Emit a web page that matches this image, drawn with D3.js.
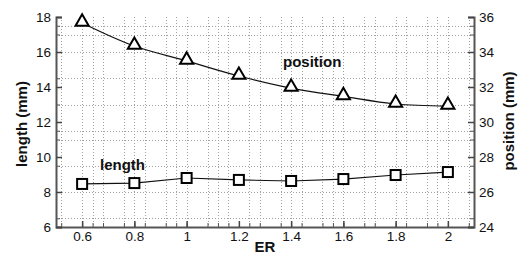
<!DOCTYPE html>
<html>
<head>
<meta charset="utf-8">
<script src="https://cdn.jsdelivr.net/npm/d3@7"></script>
<style>
  body { margin: 0; background: #fff; }
  text { font-family: "Liberation Sans", Arial, sans-serif; fill: #111; }
</style>
</head>
<body>
<svg width="519" height="255"></svg>
<script>
// values
var er = [0.6, 0.8, 1.0, 1.2, 1.4, 1.6, 1.8, 2.0];
var lengthMM = [8.46, 8.51, 8.8, 8.69, 8.63, 8.74, 8.97, 9.14];
var positionMM = [35.66, 34.34, 33.49, 32.63, 31.94, 31.46, 31.03, 30.91];

var xTicks = [0.6, 0.8, 1, 1.2, 1.4, 1.6, 1.8, 2];
var leftTicks = [6, 8, 10, 12, 14, 16, 18];
var rightTicks = [24, 26, 28, 30, 32, 34, 36];
// the dotted grid is uneven in the original
var xGrid = [0.52, 0.6, 0.64, 0.68, 0.76, 0.8, 0.84, 0.92, 0.96, 1.0, 1.08, 1.12, 1.16, 1.24, 1.28,
             1.36, 1.4, 1.44, 1.52, 1.56, 1.6, 1.68, 1.72, 1.8, 1.84, 1.92, 1.96, 2.0, 2.08];
var yGrid = [17.5, 17, 16, 14.5, 13, 11.5, 11, 9.5, 8, 6.5];

window.onload = draw();

function draw() {
	var svg = d3.select("svg"),
	    left = 56, right = 474, top = 17, bottom = 227;

	var x = d3.scaleLinear().domain([0.5, 2.1]).range([left, right]);
	var yL = d3.scaleLinear().domain([6, 18]).range([bottom, top]);
	var yR = d3.scaleLinear().domain([24, 36]).range([bottom, top]);

	// grid
	var grid = svg.append("g")
	    .attr("stroke", "#a0a0a0")
	    .attr("stroke-width", 1)
	    .attr("stroke-dasharray", "1,2");
	grid.selectAll(".gx").data(xGrid).enter().append("line")
	    .attr("x1", function(d) { return Math.round(x(d)) + 0.5; })
	    .attr("x2", function(d) { return Math.round(x(d)) + 0.5; })
	    .attr("y1", top).attr("y2", bottom);
	grid.selectAll(".gy").data(yGrid).enter().append("line")
	    .attr("y1", function(d) { return Math.round(yL(d)) + 0.5; })
	    .attr("y2", function(d) { return Math.round(yL(d)) + 0.5; })
	    .attr("x1", left).attr("x2", right);

	// minor ticks
	svg.append("g").attr("transform", "translate(0," + bottom + ")")
	    .call(d3.axisBottom(x).tickValues(xGrid).tickSizeInner(-4).tickSizeOuter(0).tickFormat(""))
	    .call(function(g) { g.select(".domain").remove(); g.selectAll("line").attr("stroke", "#555"); });
	svg.append("g").attr("transform", "translate(" + left + ",0)")
	    .call(d3.axisLeft(yL).tickValues(yGrid).tickSizeInner(-4).tickSizeOuter(0).tickFormat(""))
	    .call(function(g) { g.select(".domain").remove(); g.selectAll("line").attr("stroke", "#555"); });
	svg.append("g").attr("transform", "translate(" + right + ",0)")
	    .call(d3.axisRight(yL).tickValues(yGrid).tickSizeInner(-4).tickSizeOuter(0).tickFormat(""))
	    .call(function(g) { g.select(".domain").remove(); g.selectAll("line").attr("stroke", "#555"); });

	// main axes
	function style(g) {
		g.select(".domain").attr("stroke", "#555").attr("stroke-width", 2);
		g.selectAll(".tick line").attr("stroke", "#444").attr("stroke-width", 1.5);
		g.selectAll("text").attr("font-size", 13.5).attr("fill", "#111")
		    .attr("font-family", "Liberation Sans, Arial, sans-serif");
	}
	svg.append("g").attr("transform", "translate(0," + bottom + ")")
	    .call(d3.axisBottom(x).tickValues(xTicks).tickSizeInner(-6).tickSizeOuter(0).tickPadding(4)
	        .tickFormat(function(d) { return String(d); }))
	    .call(style);
	svg.append("g").attr("transform", "translate(" + left + ",0)")
	    .call(d3.axisLeft(yL).tickValues(leftTicks).tickSizeInner(-6).tickSizeOuter(-6).tickPadding(5))
	    .call(style);
	svg.append("g").attr("transform", "translate(" + right + ",0)")
	    .call(d3.axisRight(yR).tickValues(rightTicks).tickSizeInner(-6).tickSizeOuter(-6).tickPadding(5))
	    .call(style);

	// lines
	var lenLine = d3.line()
	    .x(function(d, i) { return x(er[i]); })
	    .y(function(d) { return yL(d); });
	var posLine = d3.line()
	    .curve(d3.curveCatmullRom)
	    .x(function(d, i) { return x(er[i]); })
	    .y(function(d) { return yR(d); });

	svg.append("path").datum(lengthMM).attr("d", lenLine)
	    .attr("fill", "none").attr("stroke", "#111").attr("stroke-width", 1.2);
	svg.append("path").datum(positionMM).attr("d", posLine)
	    .attr("fill", "none").attr("stroke", "#111").attr("stroke-width", 1.2);

	// markers
	svg.append("g").selectAll("rect").data(lengthMM).enter().append("rect")
	    .attr("x", function(d, i) { return x(er[i]) - 5; })
	    .attr("y", function(d) { return yL(d) - 5; })
	    .attr("width", 10).attr("height", 10)
	    .attr("fill", "#fff").attr("stroke", "#000").attr("stroke-width", 2);
	var tri = d3.symbol().type(d3.symbolTriangle).size(75);
	svg.append("g").selectAll("path").data(positionMM).enter().append("path")
	    .attr("d", tri)
	    .attr("transform", function(d, i) { return "translate(" + x(er[i]) + "," + (yR(d) - 1) + ")"; })
	    .attr("fill", "#fff").attr("stroke", "#000").attr("stroke-width", 2);

	// labels
	svg.append("text").attr("x", 283).attr("y", 67)
	    .attr("font-size", 15).attr("font-weight", "bold").text("position");
	svg.append("text").attr("x", 100).attr("y", 170)
	    .attr("font-size", 15).attr("font-weight", "bold").text("length");

	svg.append("text").attr("transform", "translate(27,124) rotate(-90)")
	    .attr("text-anchor", "middle").attr("font-size", 15).attr("font-weight", "bold")
	    .text("length (mm)");
	svg.append("text").attr("transform", "translate(514,121) rotate(-90)")
	    .attr("text-anchor", "middle").attr("font-size", 15).attr("font-weight", "bold")
	    .text("position (mm)");
	svg.append("text").attr("x", (left + right) / 2).attr("y", 252)
	    .attr("text-anchor", "middle").attr("font-size", 15).attr("font-weight", "bold")
	    .text("ER");
}
</script>
</body>
</html>
